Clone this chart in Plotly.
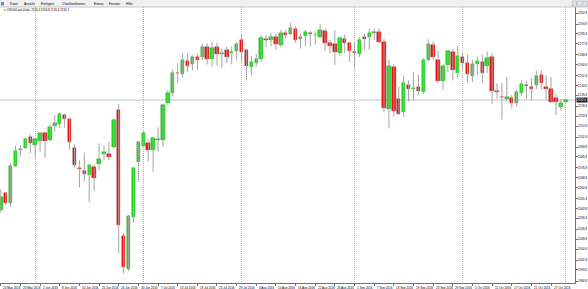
import plotly.graph_objects as go

# ---------------- data ----------------
dates = ["20 May 2016","23 May 2016","24 May 2016","25 May 2016","26 May 2016","27 May 2016","31 May 2016",
 "1 Jun 2016","2 Jun 2016","3 Jun 2016","6 Jun 2016","7 Jun 2016","8 Jun 2016","9 Jun 2016","10 Jun 2016",
 "13 Jun 2016","14 Jun 2016","15 Jun 2016","16 Jun 2016","17 Jun 2016","20 Jun 2016","21 Jun 2016","22 Jun 2016",
 "23 Jun 2016","24 Jun 2016","27 Jun 2016","28 Jun 2016","29 Jun 2016","30 Jun 2016","1 Jul 2016","5 Jul 2016",
 "6 Jul 2016","7 Jul 2016","8 Jul 2016","11 Jul 2016","12 Jul 2016","13 Jul 2016","14 Jul 2016","15 Jul 2016",
 "18 Jul 2016","19 Jul 2016","20 Jul 2016","21 Jul 2016","22 Jul 2016","25 Jul 2016","26 Jul 2016","27 Jul 2016",
 "28 Jul 2016","29 Jul 2016","1 Aug 2016","2 Aug 2016","3 Aug 2016","4 Aug 2016","5 Aug 2016","8 Aug 2016",
 "9 Aug 2016","10 Aug 2016","11 Aug 2016","12 Aug 2016","15 Aug 2016","16 Aug 2016","17 Aug 2016","18 Aug 2016",
 "19 Aug 2016","22 Aug 2016","23 Aug 2016","24 Aug 2016","25 Aug 2016","26 Aug 2016","29 Aug 2016","30 Aug 2016",
 "31 Aug 2016","1 Sep 2016","2 Sep 2016","5 Sep 2016","6 Sep 2016","7 Sep 2016","8 Sep 2016","9 Sep 2016",
 "12 Sep 2016","13 Sep 2016","14 Sep 2016","15 Sep 2016","16 Sep 2016","19 Sep 2016","20 Sep 2016","21 Sep 2016",
 "22 Sep 2016","23 Sep 2016","26 Sep 2016","27 Sep 2016","28 Sep 2016","29 Sep 2016","30 Sep 2016","3 Oct 2016",
 "4 Oct 2016","5 Oct 2016","6 Oct 2016","7 Oct 2016","10 Oct 2016","11 Oct 2016","12 Oct 2016","13 Oct 2016",
 "14 Oct 2016","17 Oct 2016","18 Oct 2016","19 Oct 2016","20 Oct 2016","21 Oct 2016","24 Oct 2016","25 Oct 2016",
 "26 Oct 2016","27 Oct 2016","28 Oct 2016","31 Oct 2016","1 Nov 2016"]

opens = [2042.6,2056.1,2048.5,2078.4,2091.5,2093.0,2102.0,2095.4,2099.0,2105.0,2099.5,2111.0,2112.5,2119.7,2116.3,
 2092.7,2077.0,2074.0,2071.0,2077.5,2080.0,2088.0,2088.0,2094.0,2124.0,2021.7,1994.5,2037.0,2082.0,2095.0,2097.0,
 2091.4,2099.5,2099.5,2129.4,2138.0,2154.2,2153.0,2164.0,2161.0,2167.0,2166.7,2175.0,2165.0,2175.0,2169.5,2172.7,
 2170.0,2172.0,2180.8,2172.7,2158.6,2162.4,2165.0,2182.0,2181.0,2183.0,2176.8,2186.8,2185.7,2189.8,2181.4,2184.0,
 2186.8,2184.7,2183.5,2188.4,2178.0,2177.6,2170.0,2182.0,2178.0,2171.3,2169.2,2183.5,2183.5,2186.8,2187.0,2179.5,
 2124.5,2158.6,2132.8,2122.5,2144.2,2141.2,2142.9,2138.8,2164.6,2176.8,2164.6,2147.7,2160.5,2170.8,2153.7,2166.8,
 2162.4,2151.6,2161.0,2163.2,2159.7,2166.8,2139.6,2134.8,2133.0,2133.4,2129.8,2138.0,2144.2,2142.5,2144.2,2152.0,
 2142.6,2141.0,2133.9,2126.0,2130.6]
highs = [2059.4,2057.0,2080.5,2095.0,2095.0,2101.0,2104.0,2101.0,2106.0,2106.5,2112.0,2119.8,2121.7,2121.0,2117.0,
 2096.0,2083.0,2089.0,2080.0,2079.5,2096.7,2095.0,2098.0,2117.0,2128.8,2024.0,2038.5,2077.0,2099.0,2106.5,2100.0,
 2102.0,2109.8,2129.0,2140.0,2157.0,2162.0,2170.0,2170.0,2168.5,2170.0,2178.0,2178.0,2179.0,2178.7,2174.0,2175.5,
 2175.5,2179.0,2184.5,2173.5,2168.0,2169.5,2185.0,2185.0,2186.5,2186.0,2189.0,2189.0,2194.9,2192.0,2186.0,2189.0,
 2188.0,2188.0,2194.0,2190.0,2181.0,2189.0,2183.5,2185.0,2179.5,2179.0,2183.0,2186.0,2190.0,2190.0,2190.5,2182.0,
 2165.0,2161.0,2142.8,2152.0,2148.0,2155.0,2152.5,2166.0,2181.5,2179.5,2172.0,2161.0,2173.0,2173.5,2176.0,2170.0,
 2169.0,2164.5,2167.5,2169.0,2171.5,2170.0,2145.5,2146.0,2151.0,2136.0,2141.0,2148.0,2148.0,2150.0,2156.0,2156.5,
 2152.0,2150.7,2137.0,2133.0,2132.6]
lows = [2040.4,2046.5,2045.0,2077.3,2085.9,2092.0,2088.7,2085.9,2090.0,2085.1,2098.5,2106.3,2109.0,2109.5,2091.4,
 2077.0,2061.0,2066.0,2049.0,2058.0,2075.0,2083.0,2083.0,2093.0,2007.6,1991.0,1993.0,2032.0,2065.6,2094.0,2082.0,
 2073.7,2090.0,2094.0,2128.0,2135.0,2146.0,2150.5,2155.0,2156.0,2156.5,2164.5,2161.0,2159.0,2160.0,2158.0,2162.0,
 2161.0,2164.0,2164.0,2148.0,2152.0,2159.0,2163.0,2175.0,2176.0,2172.7,2175.0,2182.0,2184.5,2178.5,2174.0,2176.0,
 2175.4,2177.0,2182.0,2172.0,2170.0,2160.5,2168.0,2170.5,2163.0,2158.0,2167.0,2173.0,2173.0,2181.0,2178.0,2122.0,
 2109.0,2118.5,2120.0,2118.5,2130.7,2132.0,2136.0,2137.0,2163.5,2164.5,2146.0,2140.0,2155.0,2148.0,2150.0,2157.0,
 2146.0,2146.5,2152.0,2146.0,2154.0,2129.0,2133.0,2116.0,2130.5,2125.0,2127.0,2135.5,2133.0,2131.8,2141.0,2140.0,
 2132.0,2129.5,2119.8,2123.5,2129.8]
closes = [2053.4,2048.5,2078.4,2090.5,2092.5,2100.0,2097.0,2100.0,2105.0,2099.0,2109.8,2113.0,2120.4,2116.5,2098.0,
 2079.0,2075.7,2072.0,2079.0,2068.3,2083.8,2089.5,2086.0,2115.8,2030.4,1996.0,2037.7,2076.5,2098.0,2105.0,2091.0,
 2101.4,2100.2,2128.0,2137.8,2153.8,2153.6,2164.6,2160.0,2167.0,2164.5,2175.4,2165.4,2174.0,2169.2,2170.5,2167.3,
 2171.0,2177.6,2171.3,2159.7,2163.2,2165.0,2182.2,2180.8,2183.0,2177.6,2186.8,2184.9,2190.3,2180.8,2183.5,2187.0,
 2185.4,2185.1,2189.0,2178.1,2176.0,2171.3,2182.2,2178.0,2172.0,2170.0,2180.8,2181.4,2186.8,2187.6,2179.5,2125.3,
 2160.0,2123.3,2121.0,2145.6,2140.7,2141.8,2139.4,2164.6,2177.6,2166.8,2147.7,2160.0,2171.9,2156.4,2167.8,2161.9,
 2153.2,2161.0,2164.0,2153.7,2166.5,2139.0,2138.3,2134.2,2134.5,2129.8,2138.3,2145.0,2143.4,2141.0,2151.6,2145.6,
 2141.0,2130.4,2130.6,2129.8,2132.0]

price_ticks = [2202.8,2193.8,2185.8,2177.8,2168.8,2160.8,2151.8,2143.8,2135.8,2126.8,2118.8,2110.8,2101.8,
 2093.8,2085.8,2076.8,2068.8,2060.8,2051.8,2043.8,2035.8,2026.8,2018.8,2010.8,2001.8,1993.8,1984.8]

menu_items = ["Datei","Ansicht","Einfügen","Chartfunktionen","Extras","Fenster","Hilfe"]
chart_title = "US500Cash,Daily  2126.3 2130.8 2126.4 2130.7"

# ---------------- derived ----------------
n = len(dates)
idx = list(range(n))
label_idx = idx[::4]
month_idx = [i for i in idx if i > 0 and dates[i].split()[1] != dates[i-1].split()[1]]

W, H = 588, 289
ML, MR, MT, MB = 0, 13, 7, 6
PW = W - ML - MR
PH = H - MT - MB

bull_fill, bull_line = "#14e614", "#109a10"
bear_fill, bear_line = "#f01212", "#b00c0c"

body_base = [min(o, c) for o, c in zip(opens, closes)]
body_h = [max(abs(c - o), 0.5) for o, c in zip(opens, closes)]
fills = [bull_fill if c >= o else bear_fill for o, c in zip(opens, closes)]
lines = [bull_line if c >= o else bear_line for o, c in zip(opens, closes)]

wx, wy = [], []
for i, lo, hi in zip(idx, lows, highs):
    wx += [i, i, None]
    wy += [lo, hi, None]

fig = go.Figure()
fig.add_trace(go.Scatter(x=wx, y=wy, mode="lines", line=dict(color="#a4a4a4", width=1),
                         hoverinfo="skip", showlegend=False))
fig.add_trace(go.Bar(x=idx, y=body_h, base=body_base, width=0.7,
                     marker=dict(color=fills, line=dict(color=lines, width=0.4)),
                     showlegend=False, hoverinfo="skip"))

last = closes[-1]
# current price line
fig.add_shape(type="line", xref="paper", yref="y", x0=0, x1=1, y0=last, y1=last,
              line=dict(color="#bcc6d0", width=1), layer="below")

font_small = dict(family="Liberation Sans, Arial", size=3, color="#000000")

# date labels
for i in label_idx:
    fig.add_annotation(x=i, y=0, xref="x", yref="paper", text=dates[i], showarrow=False,
                       xanchor="left", yanchor="top", yshift=-0.5, xshift=0.5, font=font_small)

# current price label
fig.add_annotation(x=1, y=last, xref="paper", yref="y", text=f"{last:.1f}", showarrow=False,
                   xanchor="left", yanchor="middle", xshift=1, bgcolor="#1a1a1a",
                   font=dict(family="Liberation Sans, Arial", size=3, color="#ffffff"),
                   borderpad=0)

# menu bar
top = 1 + MT / PH
fig.add_shape(type="rect", xref="paper", yref="paper", x0=0, x1=W / PW, y0=1, y1=top,
              fillcolor="#f0f0f0", line=dict(width=0), layer="above")
fig.add_shape(type="line", xref="paper", yref="paper", x0=0, x1=W / PW, y0=1, y1=1,
              line=dict(color="#c8c8c8", width=1), layer="above")
menu_x = [8, 22, 39, 60, 92, 107, 124]
for name, px in zip(menu_items, menu_x):
    fig.add_annotation(x=px / PW, y=1 + (MT - 3.5) / PH, xref="paper", yref="paper", text=name,
                       showarrow=False, xanchor="left", yanchor="middle",
                       font=dict(family="Liberation Sans, Arial", size=3.3, color="#000000"))
fig.add_shape(type="rect", xref="paper", yref="paper", x0=1 / PW, x1=4 / PW,
              y0=1 + 1.5 / PH, y1=1 + 5 / PH, fillcolor="#7a8fb0", line=dict(width=0), layer="above")
# window buttons
for bx in [572, 577.5, 583]:
    fig.add_shape(type="rect", xref="paper", yref="paper", x0=bx / PW, x1=(bx + 4.5) / PW,
                  y0=1 + 1 / PH, y1=1 + 6 / PH, fillcolor="#dfe6ee",
                  line=dict(color="#9aa6b4", width=0.5), layer="above")

# chart title
fig.add_annotation(x=2 / PW, y=1 - 3 / PH, xref="paper", yref="paper", text="▾ " + chart_title,
                   showarrow=False, xanchor="left", yanchor="middle",
                   font=dict(family="Liberation Sans, Arial", size=2.9, color="#000000"))

px_per_bar = 4.913
x0 = -0.8 / px_per_bar
x1 = x0 + PW / px_per_bar
p_per_px = 218.0 / 268.0
y_top = 2202.8 + (13 - MT) * p_per_px
y_bot = 2202.8 - (H - MB - 13) * p_per_px

fig.update_layout(
    width=W, height=H,
    margin=dict(l=ML, r=MR, t=MT, b=MB, pad=0),
    paper_bgcolor="#ffffff", plot_bgcolor="#ffffff",
    bargap=0, showlegend=False,
    xaxis=dict(range=[x0, x1], showgrid=True, gridcolor="#b4b4b4", griddash="1px,1px", gridwidth=1,
               tickvals=month_idx, showticklabels=False, ticks="", zeroline=False,
               showline=True, linecolor="#707070", linewidth=1,
               minor=dict(tickvals=label_idx, ticks="outside", ticklen=1.5, tickcolor="#707070",
                          showgrid=False)),
    yaxis=dict(range=[y_bot, y_top], side="right", showgrid=False, zeroline=False,
               tickvals=price_ticks, ticktext=[f"{v:.1f}" for v in price_ticks],
               ticks="outside", ticklen=1.5, tickcolor="#707070",
               tickfont=dict(family="Liberation Sans, Arial", size=3, color="#000000"),
               showline=True, linecolor="#707070", linewidth=1),
)

fig.write_html("out.html")
